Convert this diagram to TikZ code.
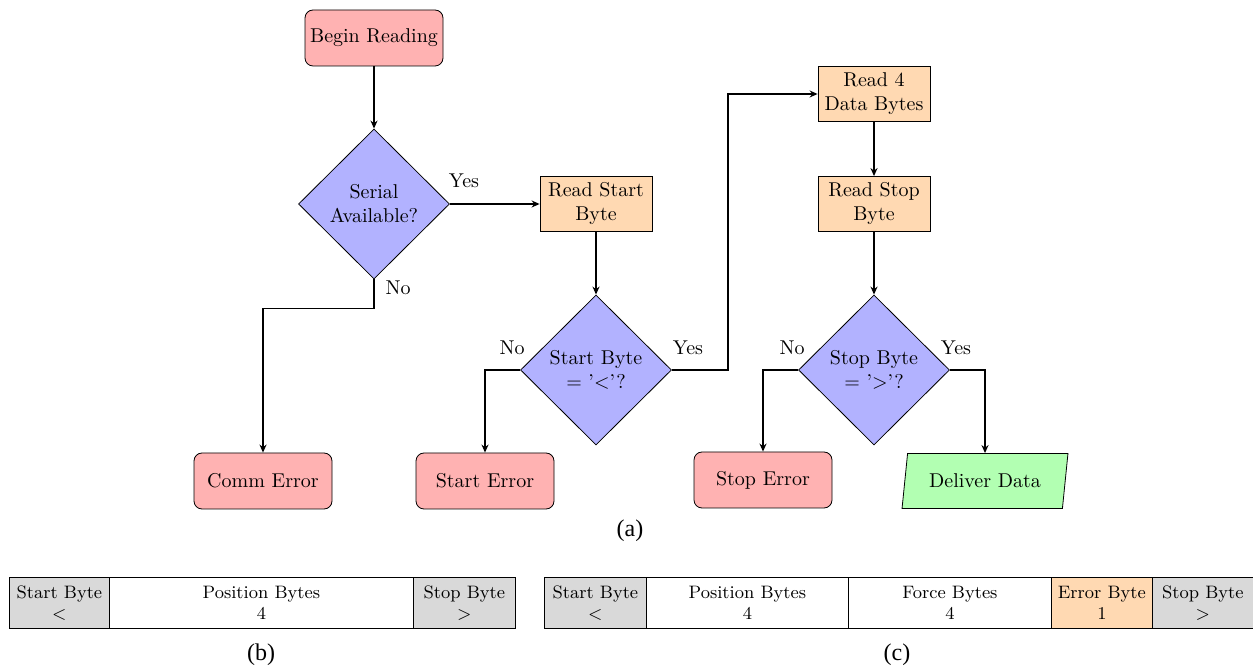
\documentclass[tikz,border=0pt]{standalone}
\usepackage{fontspec}
\newfontfamily\capfont{Liberation Serif}
\usetikzlibrary{shapes.geometric,arrows.meta}
\begin{document}
\begin{tikzpicture}[x=0.5pt,y=-0.5pt,
  every node/.style={font=\fontsize{10}{12}\selectfont},
  startstop/.style={draw, rounded corners=4pt, fill=red!30, minimum width=69pt, minimum height=28pt, align=center, inner sep=2pt},
  process/.style={draw, fill=orange!30, minimum width=56pt, minimum height=27.5pt, align=center, inner sep=2pt, text width=52pt},
  decision/.style={draw, diamond, fill=blue!30, minimum width=75.5pt, minimum height=75pt, inner sep=0pt, align=center, aspect=1},
  io/.style={draw, trapezium, trapezium left angle=79, trapezium right angle=101, trapezium stretches=true, fill=green!30, minimum width=83.5pt, minimum height=27.5pt, inner sep=2pt},
  conn/.style={draw, thick, -{Stealth[length=4pt,width=3.5pt]}},
  lbl/.style={inner sep=0pt},
  cell/.style={draw, minimum height=25.5pt, inner sep=0pt, align=center, anchor=north west, font=\fontsize{9}{10.5}\selectfont},
  grey/.style={fill=gray!30},
  captxt/.style={font=\capfont\fontsize{12}{14}\selectfont, inner sep=0pt}]
\useasboundingbox (0,0) rectangle (1253,667);

% flowchart
\node[startstop] (begin) at (374,38) {Begin Reading};
\node[decision] (sa) at (374,204) {Serial\\Available?};
\node[process] (rsb) at (596,204) {Read Start\\Byte};
\node[startstop] (comm) at (263,481) {Comm Error};
\node[decision] (sb) at (596,370) {Start Byte\\= '$<$'?};
\node[startstop] (serr) at (485,481) {Start Error};
\node[process] (r4) at (874,94) {Read 4\\Data Bytes};
\node[process] (rstop) at (874,204) {Read Stop\\Byte};
\node[decision] (stb) at (874,370) {Stop Byte\\= '$>$'?};
\node[startstop] (sterr) at (763,480) {Stop Error};
\node[io] (deliver) at (985,481) {Deliver Data};

\node[lbl] (y1) at (464,181) {Yes};
\node[lbl] (n1) at (398,288) {No};
\node[lbl] (n2) at (512,348) {No};
\node[lbl] (y2) at (688,348) {Yes};
\node[lbl] (n3) at (792,348) {No};
\node[lbl] (y3) at (956,348) {Yes};

\draw[conn] (begin) -- (sa);
\draw[conn] (sa.east) -- (rsb.west);
\draw[conn] (sa.south) -- ++(0,29) -| (comm.north);
\draw[conn] (rsb) -- (sb);
\draw[conn] (sb.west) -| (serr.north);
\draw[conn] (sb.east) -- ++(56,0) |- (r4.west);
\draw[conn] (r4) -- (rstop);
\draw[conn] (rstop) -- (stb);
\draw[conn] (stb.west) -| (sterr.north);
\draw[conn] (stb.east) -| (deliver.north);

\node[captxt] (capa) at (630,531) {(a)};

% table (b)
\node[cell,grey,minimum width=50pt] (b1) at (9,577) {Start Byte\\$<$};
\node[cell,minimum width=152pt] (b2) at (109,577) {Position Bytes\\4};
\node[cell,grey,minimum width=51pt] (b3) at (413,577) {Stop Byte\\$>$};
\node[captxt] (capb) at (261,655) {(b)};

% table (c)
\node[cell,grey,minimum width=51pt] (c1) at (544,577) {Start Byte\\$<$};
\node[cell,minimum width=101pt] (c2) at (646,577) {Position Bytes\\4};
\node[cell,minimum width=101.5pt] (c3) at (848,577) {Force Bytes\\4};
\node[cell,fill=orange!30,minimum width=50.5pt] (c4) at (1051,577) {Error Byte\\1};
\node[cell,grey,minimum width=50.5pt] (c5) at (1152,577) {Stop Byte\\$>$};
\node[captxt] (capc) at (897,655) {(c)};
\end{tikzpicture}
\end{document}
